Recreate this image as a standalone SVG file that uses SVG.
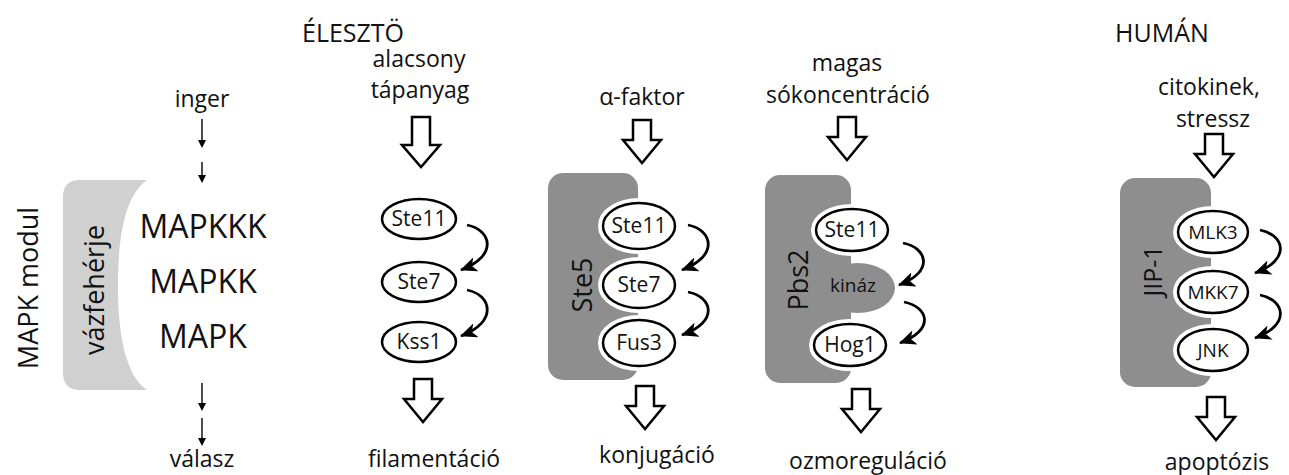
<svg xmlns="http://www.w3.org/2000/svg" xmlns:xlink="http://www.w3.org/1999/xlink" width="1289" height="475" viewBox="0 0 1289 475">
<style>
text{font-family:"Open Sans","Liberation Sans",sans-serif;fill:#111}
.lbl{font-size:23px;text-anchor:middle}
.ttl{font-size:25px}
.big{font-size:32px;text-anchor:middle}
.rot{font-size:27px;text-anchor:middle}
.en{font-size:21px;text-anchor:middle}
.halo{fill:none;stroke:#fff;stroke-width:10}
.node{fill:#fff;stroke:#000;stroke-width:2.5}
.dark{fill:#8e8e8e}
.hollow{fill:#fff;stroke:#000;stroke-width:2.5;stroke-linejoin:miter}
.curve{fill:none;stroke:#000;stroke-width:2.8;marker-end:url(#head)}
.thin{fill:none;stroke:#000;stroke-width:1.4;marker-end:url(#small)}
</style>
<defs>
<marker id="head" markerUnits="userSpaceOnUse" markerWidth="17" markerHeight="15" viewBox="0 0 17 15" refX="16" refY="7.5" orient="auto">
<path d="M0,0 L17,7.5 L0,15 L4.5,7.5 Z" fill="#000"/>
</marker>
<marker id="small" markerUnits="userSpaceOnUse" markerWidth="8" markerHeight="10" viewBox="0 0 8 10" refX="5" refY="5" orient="auto">
<path d="M0,1 L8,5 L0,9 Z" fill="#000"/>
</marker>
<path id="barrow" d="M-9,0 H9 V20 H19 L0,43 L-19,20 H-9 Z"/>
</defs>

<g id="titles">
<text class="ttl" x="302" y="42">ÉLESZTÖ</text>
<text class="ttl" x="1115" y="42">HUMÁN</text>
</g>

<g id="generic-module">
<text class="rot" transform="translate(38,288) rotate(-90)">MAPK modul</text>
<path d="M80,180 H147 C124,196 118,240 118,285 C118,330 124,374 147,390 H80 Q63,390 63,373 V197 Q63,180 80,180 Z" fill="#d0d0d0"/>
<text class="rot" transform="translate(104,290) rotate(-90)">vázfehérje</text>
<text class="lbl" x="202" y="107">inger</text>
<text class="big" x="203" y="238">MAPKKK</text>
<text class="big" x="203" y="293">MAPKK</text>
<text class="big" x="203" y="348">MAPK</text>
<text class="lbl" x="202" y="467">válasz</text>
</g>

<g id="filamentation">
<text class="lbl" x="419" y="67">alacsony</text>
<text class="lbl" x="420" y="98">tápanyag</text>
<ellipse class="node" cx="419" cy="219" rx="37" ry="20"/>
<text class="en" x="419" y="226">Ste11</text>
<ellipse class="node" cx="419" cy="282" rx="37" ry="20"/>
<text class="en" x="419" y="289">Ste7</text>
<ellipse class="node" cx="419" cy="342" rx="37" ry="20"/>
<text class="en" x="419" y="349">Kss1</text>
<text class="lbl" x="434" y="467">filamentáció</text>
</g>

<g id="conjugation">
<text class="lbl" x="642" y="105">α-faktor</text>
<rect class="dark" x="548" y="173" width="90" height="207" rx="15"/>
<text class="rot" transform="translate(592,285) rotate(-90)">Ste5</text>
<ellipse class="halo" cx="639" cy="226" rx="36" ry="23"/>
<ellipse class="halo" cx="639" cy="285" rx="36" ry="23"/>
<ellipse class="halo" cx="639" cy="343" rx="36" ry="23"/>
<ellipse class="node" cx="639" cy="226" rx="36" ry="23"/>
<text class="en" x="639" y="233">Ste11</text>
<ellipse class="node" cx="639" cy="285" rx="36" ry="23"/>
<text class="en" x="639" y="292">Ste7</text>
<ellipse class="node" cx="639" cy="343" rx="36" ry="23"/>
<text class="en" x="639" y="350">Fus3</text>
<text class="lbl" x="657" y="463">konjugáció</text>
</g>

<g id="osmoregulation">
<text class="lbl" x="847" y="71">magas</text>
<text class="lbl" x="848" y="103">sókoncentráció</text>
<rect class="dark" x="765" y="175" width="86" height="208" rx="15"/>
<ellipse class="dark" cx="858" cy="288" rx="37" ry="25"/>
<text class="rot" transform="translate(808,280) rotate(-90)">Pbs2</text>
<text class="en" style="font-size:19px" x="853" y="292">kináz</text>
<ellipse class="halo" cx="852" cy="230" rx="36" ry="21"/>
<ellipse class="halo" cx="850" cy="345" rx="36" ry="21"/>
<ellipse class="node" cx="852" cy="230" rx="36" ry="21"/>
<text class="en" x="852" y="237">Ste11</text>
<ellipse class="node" cx="850" cy="345" rx="36" ry="21"/>
<text class="en" x="850" y="352">Hog1</text>
<text class="lbl" x="868" y="469">ozmoreguláció</text>
</g>

<g id="apoptosis">
<text class="lbl" x="1209" y="95">citokinek,</text>
<text class="lbl" x="1213" y="127">stressz</text>
<rect class="dark" x="1120" y="178" width="91" height="209" rx="15"/>
<text class="rot" style="font-size:25px" transform="translate(1162,271) rotate(-90)">JIP-1</text>
<ellipse class="halo" cx="1213" cy="232" rx="35" ry="21"/>
<ellipse class="halo" cx="1213" cy="292" rx="35" ry="21"/>
<ellipse class="halo" cx="1213" cy="350" rx="35" ry="21"/>
<ellipse class="node" cx="1213" cy="232" rx="35" ry="21"/>
<text class="en" style="font-size:19px" x="1213" y="239">MLK3</text>
<ellipse class="node" cx="1213" cy="292" rx="35" ry="21"/>
<text class="en" style="font-size:19px" x="1213" y="299">MKK7</text>
<ellipse class="node" cx="1213" cy="350" rx="35" ry="21"/>
<text class="en" style="font-size:19px" x="1213" y="357">JNK</text>
<text class="lbl" x="1217" y="470">apoptózis</text>
</g>

<g id="connectors">
<line class="thin" x1="202" y1="119" x2="202" y2="145"/>
<line class="thin" x1="202" y1="162" x2="202" y2="180"/>
<line class="thin" x1="202" y1="383" x2="202" y2="408"/>
<line class="thin" x1="202" y1="418" x2="202" y2="443"/>

<path class="hollow" d="M412,117 H430 V145 H440 L421,167 L402,145 H412 Z"/>
<use class="hollow" xlink:href="#barrow" x="423" y="379"/>
<use class="hollow" xlink:href="#barrow" x="642" y="120"/>
<use class="hollow" xlink:href="#barrow" x="645" y="386"/>
<use class="hollow" xlink:href="#barrow" x="847" y="117"/>
<use class="hollow" xlink:href="#barrow" x="861" y="389"/>
<use class="hollow" xlink:href="#barrow" x="1214" y="134"/>
<use class="hollow" xlink:href="#barrow" x="1216" y="397"/>

<path class="curve" d="M467,225 C492,230 498,256 461,270"/>
<path class="curve" d="M467,290 C492,295 498,322 461,336"/>
<path class="curve" d="M688,225 C713,230 719,256 682,270"/>
<path class="curve" d="M688,292 C713,297 719,322 682,335"/>
<path class="curve" d="M903,243 C928,248 934,272 899,285"/>
<path class="curve" d="M904,302 C929,307 935,330 900,343"/>
<path class="curve" d="M1260,230 C1285,235 1291,260 1255,273"/>
<path class="curve" d="M1260,295 C1285,300 1291,325 1255,338"/>
</g>
</svg>
